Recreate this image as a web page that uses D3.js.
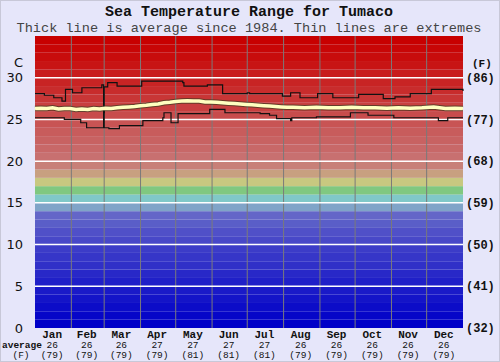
<!DOCTYPE html>
<html>
<head>
<meta charset="utf-8">
<script src="https://cdn.jsdelivr.net/npm/d3@7"></script>
<style>
  body { margin: 0; background: #e6e6fa; }
  svg { display: block; }
</style>
</head>
<body>
<svg id="chart" width="500" height="362"></svg>
<script>
// month labels and the average row under them
const months = ["Jan", "Feb", "Mar", "Apr", "May", "Jun", "Jul", "Aug", "Sep", "Oct", "Nov", "Dec"];
const monthDays = [31, 28, 31, 30, 31, 30, 31, 31, 30, 31, 30, 31];
const monthAvgC = [26, 26, 26, 27, 27, 27, 27, 26, 26, 26, 26, 26];
const monthAvgF = [79, 79, 79, 79, 81, 81, 81, 79, 79, 79, 79, 79];

const celsiusTicks = [0, 5, 10, 15, 20, 25, 30];
const fahrenheitTicks = [32, 41, 50, 59, 68, 77, 86];

// one colour per degree band, 0-1 up to 34-35
const bandColors = [
  "#0000c8", "#0606c8", "#0c0cc8", "#1414c8", "#1a1ac8",
  "#2020c8", "#2828c8", "#3030c8", "#3636c8", "#3c3cc8",
  "#4848c8", "#5050c8", "#5a5ec8", "#6466c8", "#80a4c8",
  "#80c8c8", "#80c880", "#c8c880", "#c8a080", "#c88078",
  "#c87070", "#c86868", "#c86262", "#c85c5c", "#c85454",
  "#c84c4c", "#c84040", "#c83636", "#c82c2c", "#c82424",
  "#c81c1c", "#c81414", "#c80c0c", "#c80606", "#c80000"
];

// [day of year, deg C]
const avgLine = [
  [0, 26.3], [5, 26.35], [10, 26.3], [15, 26.4], [20, 26.25], [25, 26.3], [30, 26.3],
  [35, 26.2], [40, 26.25], [45, 26.2], [50, 26.3], [55, 26.25], [60, 26.35], [65, 26.3],
  [70, 26.4], [75, 26.45], [80, 26.5], [85, 26.55], [90, 26.65], [95, 26.7], [100, 26.8],
  [105, 26.85], [110, 27.0], [115, 27.05], [120, 27.15], [125, 27.2], [130, 27.25],
  [135, 27.2], [140, 27.2], [145, 27.1], [150, 27.1], [155, 27.05], [160, 27.0],
  [165, 26.95], [170, 26.9], [175, 26.85], [180, 26.8], [185, 26.75], [190, 26.7],
  [195, 26.65], [200, 26.6], [205, 26.55], [210, 26.5], [215, 26.45], [220, 26.45],
  [230, 26.4], [240, 26.45], [250, 26.4], [260, 26.4], [270, 26.45], [280, 26.4],
  [290, 26.4], [300, 26.35], [310, 26.4], [320, 26.35], [330, 26.4], [340, 26.5],
  [345, 26.4], [350, 26.3], [358, 26.35], [365, 26.3]
];

const maxLine = [
  [0, 28.1], [8, 27.9], [16, 27.6], [23, 27.2], [26, 28.6], [32, 28.2], [40, 28.8],
  [57, 29.15], [58.5, 25.8], [59, 28.9], [62, 29.4], [70, 29.0], [91, 29.6], [126, 29.4],
  [127, 29.0], [147, 29.15], [160, 28.1], [181, 28.2], [183, 28.1], [211, 27.8],
  [218, 28.2], [226, 27.6], [241, 28.1], [254, 27.6], [276, 28.0], [297, 27.5],
  [307, 27.7], [320, 28.1], [338, 28.6], [365, 28.4]
];

const minLine = [
  [0, 25.2], [23, 25.2], [25, 25.0], [39, 24.6], [44, 24.0], [58.5, 26.4], [59, 24.0],
  [63, 23.9], [72, 24.25], [92, 24.85], [109, 25.2], [110, 25.8], [116, 24.6],
  [122, 25.7], [149, 26.2], [162, 25.8], [192, 25.7], [200, 25.5], [206, 25.1],
  [218, 24.85], [219, 25.2], [240, 25.3], [269, 25.8], [284, 25.5], [306, 25.2],
  [344, 24.85], [352, 25.2], [365, 25.2]
];

const svg = d3.select("#chart");
const margin = { top: 36, right: 37, bottom: 34, left: 35 };
const width = 500 - margin.left - margin.right;
const height = 362 - margin.top - margin.bottom;

svg.append("rect").attr("x", 0.5).attr("y", 0.5).attr("width", 499).attr("height", 361)
  .attr("fill", "#e6e6fa").attr("stroke", "#c8c8d8");

const x = d3.scaleLinear().domain([0, 365]).range([0, width]);
const y = d3.scaleLinear().domain([0, 35]).range([height, 0]);
const yF = d3.scaleLinear().domain([32, 95]).range([height, 0]);

const g = svg.append("g").attr("transform", "translate(" + margin.left + "," + margin.top + ")");

// temperature bands
g.selectAll(".band")
  .data(bandColors)
  .enter()
  .append("rect")
  .attr("x", 0)
  .attr("width", width)
  .attr("y", (d, i) => y(i + 1))
  .attr("height", (d, i) => y(i) - y(i + 1))
  .attr("fill", (d) => d);

// month boundaries
const monthStart = [0];
monthDays.forEach((d, i) => monthStart.push(monthStart[i] + d));

g.selectAll(".vgrid")
  .data(monthStart.slice(1, 12))
  .enter()
  .append("line")
  .attr("x1", (d) => x(d)).attr("x2", (d) => x(d))
  .attr("y1", 0).attr("y2", height)
  .attr("stroke", "#7a7a7a").attr("stroke-width", 1);

g.selectAll(".hgrid")
  .data(celsiusTicks.slice(1))
  .enter()
  .append("line")
  .attr("x1", 0).attr("x2", width)
  .attr("y1", (d) => y(d)).attr("y2", (d) => y(d))
  .attr("stroke", "#ffffff").attr("stroke-width", 1.5);

// extremes are stepped, the spike at end of Feb is a straight up-and-down
const step = d3.line().curve(d3.curveStepAfter).x((d) => x(d[0])).y((d) => y(d[1]));
const smooth = d3.line().x((d) => x(d[0])).y((d) => y(d[1]));

g.append("path").datum(maxLine).attr("fill", "none").attr("stroke", "#111").attr("stroke-width", 1.2).attr("d", step);
g.append("path").datum(minLine).attr("fill", "none").attr("stroke", "#111").attr("stroke-width", 1.2).attr("d", step);

g.append("path").datum(avgLine).attr("fill", "none").attr("stroke", "#3a3a20").attr("stroke-width", 5.5).attr("stroke-opacity", 0.7).attr("d", smooth);
g.append("path").datum(avgLine).attr("fill", "none").attr("stroke", "#ffffc0").attr("stroke-width", 3.5).attr("d", smooth);

// left axis (C)
svg.append("g")
  .selectAll("text")
  .data(celsiusTicks)
  .enter()
  .append("text")
  .attr("x", 23)
  .attr("y", (d) => margin.top + y(d))
  .attr("dy", "0.35em")
  .attr("text-anchor", "end")
  .style("font-family", "DejaVu Sans, sans-serif")
  .style("font-size", "13px")
  .attr("fill", "#111")
  .text((d) => d);

svg.append("text").attr("x", 23).attr("y", 62).attr("dy", "0.35em").attr("text-anchor", "end")
  .style("font-family", "DejaVu Sans, sans-serif").style("font-size", "13px").attr("fill", "#111").text("C");

// right axis (F)
svg.append("g")
  .selectAll("text")
  .data(fahrenheitTicks)
  .enter()
  .append("text")
  .attr("x", 466)
  .attr("y", (d) => margin.top + yF(d))
  .attr("dy", "0.35em")
  .style("font-family", "Liberation Mono, monospace")
  .style("font-size", "12px")
  .style("font-weight", "bold")
  .attr("fill", "#111")
  .text((d) => "(" + d + ")");

svg.append("text").attr("x", 472).attr("y", 63).attr("dy", "0.35em")
  .style("font-family", "Liberation Mono, monospace").style("font-size", "11px").style("font-weight", "bold")
  .attr("fill", "#111").text("(F)");

// month labels + averages
const mono = "Liberation Mono, monospace";
const bottom = svg.append("g").attr("text-anchor", "middle").attr("fill", "#111").style("font-family", mono);
months.forEach((m, i) => {
  const cx = margin.left + x((monthStart[i] + monthStart[i + 1]) / 2) - 1;
  bottom.append("text").attr("x", cx).attr("y", 338).style("font-size", "11px").style("font-weight", "bold").text(m);
  bottom.append("text").attr("x", cx).attr("y", 348).style("font-size", "9.5px").text(monthAvgC[i]);
  bottom.append("text").attr("x", cx).attr("y", 358).style("font-size", "9.5px").text("(" + monthAvgF[i] + ")");
});
bottom.append("text").attr("x", 2).attr("y", 348).attr("text-anchor", "start").style("font-size", "9.5px").style("font-weight", "bold").text("average");
bottom.append("text").attr("x", 21).attr("y", 358).style("font-size", "9.5px").text("(F)");

// titles
svg.append("text").attr("x", 249).attr("y", 16).attr("text-anchor", "middle")
  .style("font-family", mono).style("font-size", "15px").style("font-weight", "bold").attr("fill", "#111")
  .text("Sea Temperature Range for Tumaco");
svg.append("text").attr("x", 249).attr("y", 31.5).attr("text-anchor", "middle")
  .style("font-family", mono).style("font-size", "13.6px").attr("fill", "#444")
  .text("Thick line is average since 1984. Thin lines are extremes");
</script>
</body>
</html>
